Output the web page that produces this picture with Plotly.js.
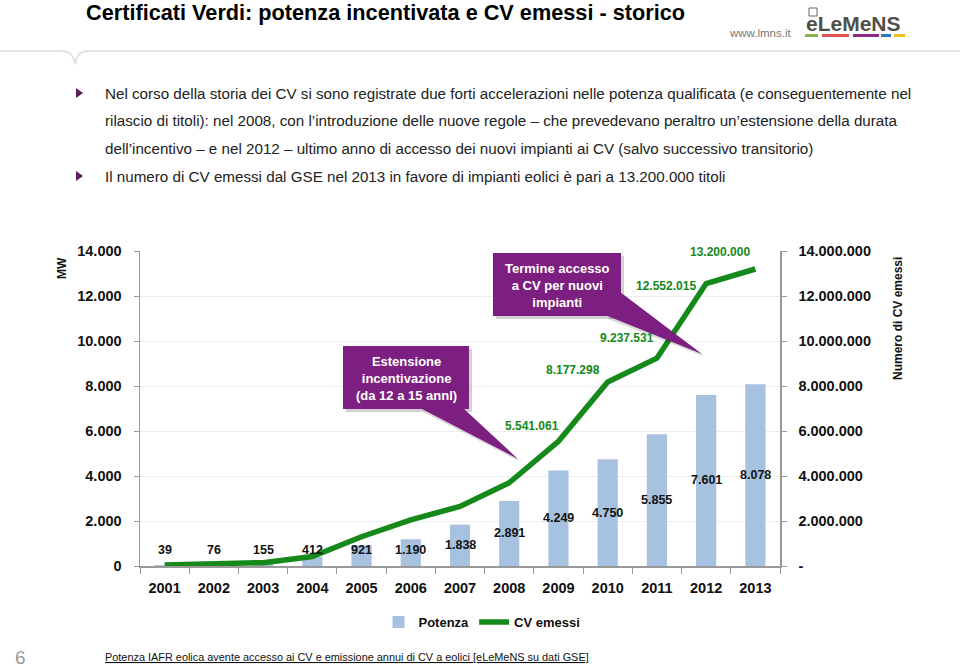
<!DOCTYPE html>
<html>
<head>
<meta charset="utf-8">
<script src="https://cdn.plot.ly/plotly-3.0.1.min.js"></script>
<style>html,body{margin:0;padding:0;background:#fff;}#chart{width:960px;height:669px;}</style>
</head>
<body>
<div id="chart"></div>
<script>
// ---- data ----
var years = ["2001","2002","2003","2004","2005","2006","2007","2008","2009","2010","2011","2012","2013"];
var potenzaMW = [39, 76, 155, 412, 921, 1190, 1838, 2891, 4249, 4750, 5855, 7601, 8078];
var potenzaLabels = ["39","76","155","412","921","1.190","1.838","2.891","4.249","4.750","5.855","7.601","8.078"];
var cvEmessi = [50000, 120000, 150000, 420000, 1300000, 2050000, 2650000, 3700000, 5541061, 8177298, 9237531, 12552015, 13200000];
var cvLabelYears = ["2009","2010","2011","2012","2013"];
var cvLabelText = ["5.541.061","8.177.298","9.237.531","12.552.015","13.200.000"];
var leftTickVals = [0, 2000, 4000, 6000, 8000, 10000, 12000, 14000];
var leftTickText = ["0","2.000","4.000","6.000","8.000","10.000","12.000","14.000"];
var rightTickVals = [0, 2000000, 4000000, 6000000, 8000000, 10000000, 12000000, 14000000];
var rightTickText = ["-","2.000.000","4.000.000","6.000.000","8.000.000","10.000.000","12.000.000","14.000.000"];

// ---- style / layout helpers ----
var FONT = "'Liberation Sans', Arial, sans-serif";
var GREEN = "#15891a";
var BLUE = "#a7c1e0";
var PURPLE = "#7d1f80";
var cvLabelOffsets = [[-26,15],[-35,12],[-30,20],[-40,-2],[-35,17]]; // px offsets (dx, dy-up)

// plot area in pixels: x 140..780, y 251..566
var L = 140, R = 780, T = 251, B = 566;
function px(x){ return (x - L) / (R - L); }
function py(y){ return (B - y) / (B - T); }

var traces = [
  {type:"bar", name:"Potenza", x:years, y:potenzaMW, marker:{color:BLUE}, width:0.41,
   hoverinfo:"skip"},
  {type:"scatter", mode:"lines", name:"CV emessi", x:years, y:cvEmessi, yaxis:"y2",
   line:{color:GREEN, width:5.5}, hoverinfo:"skip"}
];

var annotations = [];
// bar labels (x given as category index)
for (var i = 0; i < years.length; i++) {
  annotations.push({x:i, y:Math.max(potenzaMW[i]/2, 700), xref:"x", yref:"y",
    text:potenzaLabels[i], showarrow:false,
    font:{family:FONT, size:12.5, color:"#111", weight:"bold"}});
}
// CV labels
for (var j = 0; j < cvLabelYears.length; j++) {
  var idx = years.indexOf(cvLabelYears[j]);
  annotations.push({x:idx, y:cvEmessi[idx], xref:"x", yref:"y2",
    text:cvLabelText[j], showarrow:false,
    xshift:cvLabelOffsets[j][0], yshift:cvLabelOffsets[j][1],
    font:{family:FONT, size:12, color:GREEN, weight:"bold"}});
}
function ann(x, y, text, opts){
  var a = {xref:"paper", yref:"paper", x:px(x), y:py(y), text:text, showarrow:false,
    xanchor:"left", yanchor:"middle"};
  for (var k in opts) a[k] = opts[k];
  return a;
}
// title
annotations.push(ann(84, 12, "Certificati Verdi: potenza incentivata e CV emessi - storico",
  {font:{family:FONT, size:21.7, color:"#000", weight:"bold"}}));
annotations.push(ann(727, 33, "www.lmns.it", {font:{family:FONT, size:11.5, color:"#777"}}));
annotations.push(ann(804, 24, "eLeMeNS", {font:{family:FONT, size:21, color:"#4f5048", weight:"bold"}}));
// bullets
var bulletLines = [
  [93, "Nel corso della storia dei CV si sono registrate due forti accelerazioni nelle potenza qualificata (e conseguentemente nel"],
  [121, "rilascio di titoli): nel 2008, con l\u2019introduzione delle nuove regole \u2013 che prevedevano peraltro un\u2019estensione della durata"],
  [148, "dell\u2019incentivo \u2013 e nel 2012 \u2013 ultimo anno di accesso dei nuovi impianti ai CV (salvo successivo transitorio)"],
  [176, "Il numero di CV emessi dal GSE nel 2013 in favore di impianti eolici \u00e8 pari a 13.200.000 titoli"]
];
bulletLines.forEach(function(b){
  annotations.push(ann(103, b[0], b[1], {font:{family:FONT, size:15.2, color:"#222"}}));
});
// axis titles
annotations.push(ann(62, 268, "MW", {xanchor:"center", textangle:-90, font:{family:FONT, size:12, color:"#111", weight:"bold"}}));
annotations.push(ann(898, 319, "Numero di CV emessi", {xanchor:"center", textangle:-90, font:{family:FONT, size:12, color:"#111", weight:"bold"}}));
// callouts text
annotations.push(ann(406, 378, "Estensione<br>incentivazione<br>(da 12 a 15 annl)", {xanchor:"center", align:"center", font:{family:FONT, size:13, color:"#fff", weight:"bold"}}));
annotations.push(ann(557, 285, "Termine accesso<br>a CV per nuovi<br>impianti", {xanchor:"center", align:"center", font:{family:FONT, size:13, color:"#fff", weight:"bold"}}));
// footer
annotations.push(ann(13, 657, "6", {font:{family:FONT, size:19, color:"#999"}}));
annotations.push(ann(103, 657, "<u>Potenza IAFR eolica avente accesso ai CV e emissione annui di CV a eolici [eLeMeNS su dati GSE]</u>", {font:{family:FONT, size:10.9, color:"#111"}}));

function rectPx(x0,y0,x1,y1,fill,extra){
  var s = {type:"rect", xref:"paper", yref:"paper", x0:px(x0), x1:px(x1), y0:py(y1), y1:py(y0),
    fillcolor:fill, line:{width:0}, layer:"above"};
  for (var k in extra) s[k]=extra[k];
  return s;
}
function pathPx(pts, fill, extra){
  var d = pts.map(function(p,n){ return (n?"L":"M") + px(p[0]).toFixed(5) + "," + py(p[1]).toFixed(5); }).join(" ") + " Z";
  var s = {type:"path", xref:"paper", yref:"paper", path:d, fillcolor:fill, line:{width:0}, layer:"above"};
  for (var k in extra) s[k]=extra[k];
  return s;
}
var shapes = [
  // header separator with notch
  {type:"path", xref:"paper", yref:"paper",
   path:"M"+px(0)+","+py(51)+" L"+px(62)+","+py(51)+" Q"+px(73)+","+py(51)+" "+px(75)+","+py(64)+" Q"+px(77)+","+py(51)+" "+px(88)+","+py(51)+" L"+px(960)+","+py(51),
   line:{color:"#e2e2e2", width:2}},
  // logo colour bars
  rectPx(805,34,818,37,"#8cb04a"), rectPx(822,34,849,37,"#e05252"), rectPx(853,34,879,37,"#8a2a86"),
  rectPx(881,34,891,37,"#2c78c2"), rectPx(894,34,905,37,"#f2c21c"),
  {type:"rect", xref:"paper", yref:"paper", x0:px(809), x1:px(817), y0:py(16), y1:py(8), line:{color:"#666", width:1}},
  // bullet markers
  pathPx([[76,88],[83,93],[76,98]], "#5b1d5e"),
  pathPx([[76,171],[83,176],[76,181]], "#5b1d5e"),
  // callout shadows
  rectPx(346,349,472,412,"rgba(0,0,0,0.18)"),
  pathPx([[423,412],[465,412],[521,462]], "rgba(0,0,0,0.15)"),
  rectPx(496,256,624,319,"rgba(0,0,0,0.18)"),
  pathPx([[624,295],[705,357],[608,319]], "rgba(0,0,0,0.15)"),
  // callouts
  rectPx(343,346,469,409,PURPLE),
  pathPx([[420,408],[463,408],[518,459]], PURPLE),
  rectPx(493,253,621,316,PURPLE),
  pathPx([[620,292],[702,354],[605,315]], PURPLE)
];

var layout = {
  width:960, height:669,
  margin:{l:L, r:960-R, t:T, b:669-B, pad:0},
  paper_bgcolor:"#fff", plot_bgcolor:"#fff",
  showlegend:true,
  legend:{orientation:"h", x:px(482), xanchor:"center", y:py(622), yanchor:"middle",
    font:{family:FONT, size:13, color:"#111", weight:"bold"}, bgcolor:"rgba(0,0,0,0)"},
  xaxis:{type:"category", categoryorder:"array", categoryarray:years, range:[-0.5,12.5], showline:true, linecolor:"#999", linewidth:1.5,
    ticks:"outside", tickson:"boundaries", ticklen:6, tickcolor:"#999", showgrid:false, zeroline:false,
    ticklabelstandoff:8, tickfont:{family:FONT, size:14.5, color:"#111", weight:"bold"}, fixedrange:true},
  yaxis:{range:[0,14000], tickvals:leftTickVals, ticktext:leftTickText, showline:true, linecolor:"#999", linewidth:1.5,
    ticks:"outside", ticklen:5, tickcolor:"#999", showgrid:true, gridcolor:"#eeeeee", zeroline:false,
    ticklabelstandoff:9, tickfont:{family:FONT, size:14.5, color:"#111", weight:"bold"}, fixedrange:true},
  yaxis2:{overlaying:"y", side:"right", range:[0,14000000], tickvals:rightTickVals, ticktext:rightTickText,
    showline:true, linecolor:"#999", linewidth:1.5, ticks:"outside", ticklen:5, tickcolor:"#999",
    showgrid:false, zeroline:false, ticklabelstandoff:9,
    tickfont:{family:FONT, size:14.5, color:"#111", weight:"bold"}, fixedrange:true},
  annotations:annotations,
  shapes:shapes
};

Plotly.newPlot("chart", traces, layout, {staticPlot:true, displayModeBar:false});
</script>
</body>
</html>
